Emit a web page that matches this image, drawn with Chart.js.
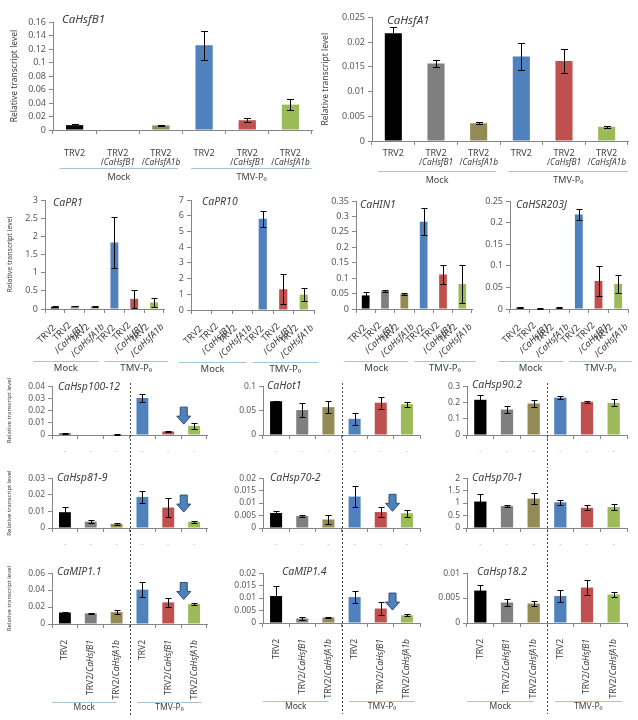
<!DOCTYPE html>
<html>
<head>
<meta charset="utf-8">
<script src="https://cdn.jsdelivr.net/npm/chart.js@4.4.1/dist/chart.umd.min.js"></script>
<style>
body { margin: 0; background: #fff; }
#wrap { position: relative; width: 638px; height: 720px; overflow: hidden; background: #fff; }
#wrap canvas { position: absolute; }
</style>
</head>
<body>
<div id="wrap"></div>
<script>
// x categories (same six lines in every panel)
const vectors = ["TRV2", "TRV2", "TRV2", "TRV2", "TRV2", "TRV2"]
const silenced = ["", "/CaHsfB1", "/CaHsfA1b", "", "/CaHsfB1", "/CaHsfA1b"]
const groups = ["Mock", "TMV-P\u2080"]
const barColors = ["#000000", "#7f7f7f", "#948a54", "#4f81bd", "#c0504d", "#9bbb59"]

// relative transcript level, mean and error
const hsfB1 = [0.0072, 0, 0.0068, 0.1254, 0.0145, 0.0376]
const hsfB1Err = [0.0015, 0, 0.0012, 0.021, 0.003, 0.008]
const hsfA1 = [0.0218, 0.0157, 0.0036, 0.0171, 0.0162, 0.0029]
const hsfA1Err = [0.0013, 0.0007, 0.0002, 0.0027, 0.0024, 0.0002]
const pr1 = [0.06, 0.08, 0.065, 1.83, 0.28, 0.18]
const pr1Err = [0.01, 0.01, 0.01, 0.71, 0.25, 0.12]
const pr10 = [0, 0, 0, 5.8, 1.32, 0.98]
const pr10Err = [0, 0, 0, 0.5, 0.95, 0.4]
const hin1 = [0.044, 0.059, 0.049, 0.283, 0.112, 0.081]
const hin1Err = [0.01, 0.003, 0.004, 0.043, 0.032, 0.062]
const hsr203j = [0.003, 0.001, 0.0025, 0.219, 0.065, 0.058]
const hsr203jErr = [0.001, 0.0005, 0.001, 0.012, 0.034, 0.021]
const hsp100 = [0.0012, 0, 0.0006, 0.0303, 0.0029, 0.0075]
const hsp100Err = [0.0004, 0, 0.0003, 0.0035, 0.0005, 0.0026]
const hot1 = [0.069, 0.051, 0.057, 0.033, 0.066, 0.063]
const hot1Err = [0.001, 0.014, 0.013, 0.012, 0.012, 0.005]
const hsp90 = [0.216, 0.156, 0.193, 0.229, 0.203, 0.197]
const hsp90Err = [0.031, 0.024, 0.02, 0.008, 0.004, 0.022]
const hsp81 = [0.0095, 0.0038, 0.0025, 0.0187, 0.0123, 0.0037]
const hsp81Err = [0.003, 0.0008, 0.0004, 0.0036, 0.0058, 0.0007]
const hsp702 = [0.006, 0.0048, 0.0034, 0.0126, 0.0064, 0.0059]
const hsp702Err = [0.001, 0.0003, 0.0018, 0.0043, 0.002, 0.0014]
const hsp701 = [1.06, 0.88, 1.18, 1.03, 0.81, 0.84]
const hsp701Err = [0.31, 0.05, 0.23, 0.1, 0.1, 0.13]
const mip11 = [0.0135, 0.0125, 0.014, 0.0405, 0.0255, 0.0235]
const mip11Err = [0.001, 0.001, 0.002, 0.0085, 0.005, 0.001]
const mip14 = [0.0108, 0.0018, 0.0022, 0.0104, 0.0058, 0.0031]
const mip14Err = [0.0042, 0.0005, 0.0003, 0.0024, 0.0026, 0.0004]
const hsp182 = [0.0065, 0.0041, 0.0039, 0.0054, 0.0071, 0.0057]
const hsp182Err = [0.0011, 0.0007, 0.0005, 0.0012, 0.0015, 0.0005]

// y axis: [max, step]
const hsfB1Axis = [0.16, 0.02], hsfA1Axis = [0.025, 0.005]
const pr1Axis = [3, 0.5], pr10Axis = [7, 1], hin1Axis = [0.35, 0.05], hsr203jAxis = [0.25, 0.05]
const hsp100Axis = [0.04, 0.01], hot1Axis = [0.1, 0.05], hsp90Axis = [0.3, 0.1]
const hsp81Axis = [0.03, 0.01], hsp702Axis = [0.02, 0.005], hsp701Axis = [2, 0.5]
const mip11Axis = [0.06, 0.02], mip14Axis = [0.02, 0.005], hsp182Axis = [0.01, 0.005]

const FONT = "'Noto Sans', sans-serif"
const TXT = "#404040"
Chart.defaults.font.family = FONT

// layout: box = [axis left, axis right, plot top, zero line] in page px
const panels = [
    {gene: "CaHsfB1", mean: hsfB1, err: hsfB1Err, axis: hsfB1Axis, kind: "top", box: [53, 312, 22, 130], yW: 46, padTop: 12, padR: 8, xH: 56, title: [9, -2], yTitle: 8.5, lab: [23, 33, 38, 47]},
    {gene: "CaHsfA1", mean: hsfA1, err: hsfA1Err, axis: hsfA1Axis, kind: "top", box: [372, 628, 17, 141], yW: 54, padTop: 8, padR: 8, xH: 48, title: [15, 3], yTitle: 8.5, lab: [12, 22, 30, 39]},
    {gene: "CaPR1", mean: pr1, err: pr1Err, axis: pr1Axis, kind: "mid", box: [45, 164, 200, 309], yW: 41, padTop: 10, padR: 8, xH: 66, title: [8, 3], yTitle: 7},
    {gene: "CaPR10", mean: pr10, err: pr10Err, axis: pr10Axis, kind: "mid", box: [191, 314, 200, 310], yW: 22, padTop: 10, padR: 8, xH: 65, title: [11, 2]},
    {gene: "CaHIN1", mean: hin1, err: hin1Err, axis: hin1Axis, kind: "mid", box: [356, 472, 201, 309], yW: 34, padTop: 9, padR: 8, xH: 66, title: [4, 4]},
    {gene: "CaHSR203J", mean: hsr203j, err: hsr203jErr, axis: hsr203jAxis, kind: "mid", box: [510, 628, 201, 309], yW: 34, padTop: 9, padR: 8, xH: 66, title: [6, 4]},
    {gene: "CaHsp100-12", mean: hsp100, err: hsp100Err, axis: hsp100Axis, kind: "gridA", box: [52, 207, 386, 437], yW: 48, padTop: 6, padR: 5, xH: 33, title: [6, 1], yTitle: 6, arrow: [4.6, 0.0228]},
    {gene: "CaHot1", mean: hot1, err: hot1Err, axis: hot1Axis, kind: "gridA", box: [263, 420, 386, 437], yW: 38, padTop: 6, padR: 5, xH: 33, title: [4, 0]},
    {gene: "CaHsp90.2", mean: hsp90, err: hsp90Err, axis: hsp90Axis, kind: "gridA", box: [467, 627, 386, 437], yW: 36, padTop: 6, padR: 6, xH: 33, title: [5, -1]},
    {gene: "CaHsp81-9", mean: hsp81, err: hsp81Err, axis: hsp81Axis, kind: "gridB", box: [52, 207, 478, 528], yW: 48, padTop: 8, padR: 5, xH: 37, title: [5, 0], yTitle: 6, arrow: [4.6, 0.0198]},
    {gene: "CaHsp70-2", mean: hsp702, err: hsp702Err, axis: hsp702Axis, kind: "gridB", box: [263, 420, 478, 528], yW: 38, padTop: 8, padR: 5, xH: 37, title: [7, 0], arrow: [4.45, 0.0135]},
    {gene: "CaHsp70-1", mean: hsp701, err: hsp701Err, axis: hsp701Axis, kind: "gridB", box: [467, 627, 478, 528], yW: 36, padTop: 8, padR: 6, xH: 37, title: [5, 0]},
    {gene: "CaMIP1.1", mean: mip11, err: mip11Err, axis: mip11Axis, kind: "gridC", box: [52, 207, 573, 624], yW: 48, padTop: 8, padR: 5, xH: 92, title: [5, -1], yTitle: 6, arrow: [4.6, 0.049]},
    {gene: "CaMIP1.4", mean: mip14, err: mip14Err, axis: mip14Axis, kind: "gridC", box: [263, 420, 573, 623], yW: 38, padTop: 8, padR: 5, xH: 93, title: [19, -1], arrow: [4.45, 0.012]},
    {gene: "CaHsp18.2", mean: hsp182, err: hsp182Err, axis: hsp182Axis, kind: "gridC", box: [467, 627, 573, 623], yW: 36, padTop: 8, padR: 6, xH: 93, title: [10, -1]}
]

function fontOf(italic, size) {
    return (italic ? "italic " : "") + size + "px " + FONT
}

// "/CaHsfB1" -> "/" plain + gene name italic
function partsOf(str) {
    if (!str) return []
    let k = str.indexOf("Ca")
    if (k < 0) return [[str, false]]
    let out = []
    if (k > 0) out.push([str.slice(0, k), false])
    out.push([str.slice(k), true])
    return out
}

function widthOf(ctx, parts, size) {
    let w = 0
    parts.forEach(pt => { ctx.font = fontOf(pt[1], size); w += ctx.measureText(pt[0]).width })
    return w
}

function drawParts(ctx, parts, x, y, align, size) {
    let w = widthOf(ctx, parts, size)
    let sx = align === "center" ? x - w / 2 : align === "right" ? x - w : x
    ctx.textAlign = "left"
    parts.forEach(pt => {
        ctx.font = fontOf(pt[1], size)
        ctx.fillText(pt[0], sx, y)
        sx += ctx.measureText(pt[0]).width
    })
}

function groupLines(ctx, x, y0, lineY, textY, size, m) {
    // m = [mock start, mock end, tmv start, tmv end] in category widths
    let w = (x.right - x.left) / 6
    let mid = (x.left + x.right) / 2
    let segs = [[x.left + m[0] * w, mid + m[1] * w], [mid + m[2] * w, x.right + m[3] * w]]
    ctx.strokeStyle = "#a6c4d8"
    ctx.lineWidth = 1
    segs.forEach((s, g) => {
        ctx.beginPath()
        ctx.moveTo(s[0], Math.round(y0 + lineY) + 0.5)
        ctx.lineTo(s[1], Math.round(y0 + lineY) + 0.5)
        ctx.stroke()
        ctx.fillStyle = TXT
        ctx.font = fontOf(false, size)
        ctx.textAlign = "center"
        ctx.textBaseline = "middle"
        ctx.fillText(groups[g], (s[0] + s[1]) / 2, y0 + textY)
    })
}

const extras = {
    id: "extras",
    afterDatasetsDraw(chart) {
        const p = chart.options.plugins.extras.panel
        const ctx = chart.ctx
        const x = chart.scales.x, y = chart.scales.y
        const area = chart.chartArea
        const meta = chart.getDatasetMeta(0)
        const y0 = y.getPixelForValue(0)
        const big = p.kind === "top"
        ctx.save()

        // error bars
        ctx.strokeStyle = "#000"
        ctx.lineWidth = 1
        let cap = big ? 3.5 : 3
        p.mean.forEach((v, i) => {
            let e = p.err[i]
            if (!e) return
            let cx = Math.round(meta.data[i].x) + 0.5
            let hi = Math.round(y.getPixelForValue(v + e)) + 0.5
            let lo = Math.round(y.getPixelForValue(Math.max(v - e, 0))) + 0.5
            ctx.beginPath()
            ctx.moveTo(cx, hi); ctx.lineTo(cx, lo)
            ctx.moveTo(cx - cap, hi); ctx.lineTo(cx + cap, hi)
            ctx.moveTo(cx - cap, lo); ctx.lineTo(cx + cap, lo)
            ctx.stroke()
        })

        // gene name
        ctx.fillStyle = TXT
        ctx.textBaseline = "middle"
        drawParts(ctx, [[p.gene, true]], area.left + p.title[0], area.top + p.title[1], "left", big ? 11.5 : 10.5)

        // category labels
        ctx.fillStyle = TXT
        if (p.kind === "top") {
            vectors.forEach((v, i) => {
                let cx = x.getPixelForValue(i)
                drawParts(ctx, [[v, false]], cx, y0 + p.lab[0], "center", 9)
                drawParts(ctx, partsOf(silenced[i]), cx, y0 + p.lab[1], "center", 8.3)
            })
            groupLines(ctx, x, y0, p.lab[2], p.lab[3], 9, [0.15, -0.1, 0.2, 0])
        } else if (p.kind === "mid") {
            let size = 9.3, lh = 10.5
            vectors.forEach((v, i) => {
                let cx = x.getPixelForValue(i)
                ctx.save()
                ctx.translate(cx + 1, y0 + 9)
                ctx.rotate(-Math.PI / 4)
                ctx.fillStyle = TXT
                ctx.textBaseline = "middle"
                if (silenced[i]) {
                    let a = [[v, false]], b = partsOf(silenced[i])
                    let bw = Math.max(widthOf(ctx, a, size), widthOf(ctx, b, size))
                    drawParts(ctx, a, -bw / 2, 0, "center", size)
                    drawParts(ctx, b, -bw / 2, lh, "center", size)
                } else {
                    drawParts(ctx, [[v, false]], -7, 5, "right", size)
                }
                ctx.restore()
            })
            groupLines(ctx, x, y0, 52, 59, 9.5, [-0.6, -0.3, 0, 0.2])
        } else if (p.kind === "gridC") {
            vectors.forEach((v, i) => {
                let cx = x.getPixelForValue(i)
                ctx.save()
                ctx.translate(cx, y0 + 16)
                ctx.rotate(-Math.PI / 2)
                ctx.fillStyle = TXT
                ctx.textBaseline = "middle"
                drawParts(ctx, partsOf(v + silenced[i]), 0, 0, "right", 8.5)
                ctx.restore()
            })
            groupLines(ctx, x, y0, 78, 84, 8.5, [0, -0.5, 0.3, -0.2])
        } else {
            // empty placeholder ticks under the bars
            ctx.fillStyle = "#b0b0b0"
            vectors.forEach((v, i) => {
                drawParts(ctx, [["-", false]], x.getPixelForValue(i), y0 + 16, "center", 7)
            })
        }

        // dotted line between Mock and TMV
        if (p.kind.startsWith("grid")) {
            let sx = Math.round((x.left + x.right) / 2) + 0.5
            ctx.strokeStyle = "#404040"
            ctx.setLineDash([2, 2])
            ctx.beginPath()
            ctx.moveTo(sx, p.kind === "gridA" ? area.top - 3 : 0)
            ctx.lineTo(sx, p.kind === "gridC" ? y0 + 91 : chart.height)
            ctx.stroke()
            ctx.setLineDash([])
        }

        // blue arrow pointing at the silenced line
        if (p.arrow) {
            let ax = x.getPixelForValue(p.arrow[0])
            let ay = y.getPixelForValue(p.arrow[1])
            let h = 17, head = 8, sw = 3.5, hw = 7
            ctx.beginPath()
            ctx.moveTo(ax - sw, ay)
            ctx.lineTo(ax + sw, ay)
            ctx.lineTo(ax + sw, ay + h - head)
            ctx.lineTo(ax + hw, ay + h - head)
            ctx.lineTo(ax, ay + h)
            ctx.lineTo(ax - hw, ay + h - head)
            ctx.lineTo(ax - sw, ay + h - head)
            ctx.closePath()
            ctx.fillStyle = "#4f81bd"
            ctx.strokeStyle = "#2c4d75"
            ctx.fill()
            ctx.stroke()
        }
        ctx.restore()
    }
}

const wrap = document.getElementById("wrap")

panels.forEach(p => {
    let x0 = p.box[0], x1 = p.box[1], top = p.box[2], bottom = p.box[3]
    let cv = document.createElement("canvas")
    cv.width = p.yW + (x1 - x0) + p.padR
    cv.height = p.padTop + (bottom - top) + p.xH
    wrap.appendChild(cv)
    let grid = p.kind.startsWith("grid")

    let chart = new Chart(cv, {
        type: "bar",
        data: {
            labels: vectors.map((v, i) => v + silenced[i]),
            datasets: [{
                data: p.mean,
                backgroundColor: barColors,
                borderWidth: 0,
                categoryPercentage: 1,
                barPercentage: grid ? 0.46 : 0.4
            }]
        },
        options: {
            responsive: false,
            animation: false,
            devicePixelRatio: 1,
            events: [],
            layout: {padding: {left: 0, top: p.padTop, right: p.padR, bottom: 0}},
            plugins: {
                legend: {display: false},
                tooltip: {enabled: false},
                extras: {panel: p}
            },
            scales: {
                x: {
                    grid: {display: true, drawOnChartArea: false, drawTicks: true, tickLength: 4, color: "#868686", offset: true},
                    border: {color: "#868686"},
                    ticks: {display: false},
                    afterFit: s => { s.height = p.xH }
                },
                y: {
                    min: 0,
                    max: p.axis[0],
                    grid: {display: true, drawOnChartArea: false, drawTicks: true, tickLength: 4, color: "#868686"},
                    border: {color: "#868686"},
                    ticks: {
                        stepSize: p.axis[1],
                        autoSkip: false,
                        color: "#595959",
                        padding: 3,
                        font: {size: grid ? 8.5 : 9},
                        callback: v => String(+v.toFixed(6))
                    },
                    title: {
                        display: !!p.yTitle,
                        text: "Relative transcript level",
                        color: TXT,
                        font: {size: p.yTitle || 8},
                        padding: {top: 2, bottom: 0}
                    },
                    afterFit: s => { s.width = p.yW }
                }
            }
        },
        plugins: [extras]
    })
    cv.style.left = (x0 - chart.chartArea.left) + "px"
    cv.style.top = (top - chart.chartArea.top) + "px"
})
</script>
</body>
</html>
